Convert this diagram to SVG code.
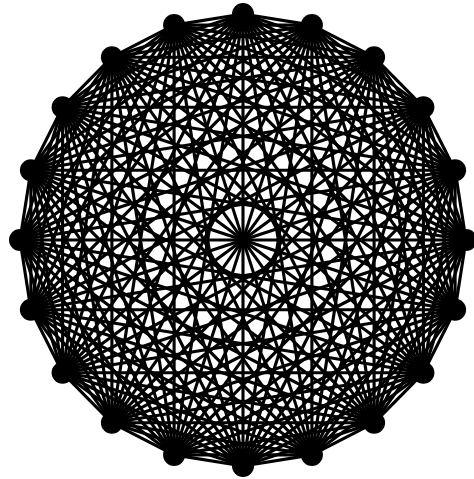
<svg xmlns="http://www.w3.org/2000/svg" width="474" height="479" viewBox="0 0 474 479">
<style>
.e{stroke:#000;stroke-width:3.1;fill:none}
.n{fill:#000}
</style>
<rect width="474" height="479" fill="#fff"/>
<g id="connectors" class="e">
<path d="M243 14L311.9 25.1"/><path d="M243 14L374.1 57.2"/><path d="M243 14L423.4 107.2"/><path d="M243 14L455.1 170.2"/><path d="M243 14L466 240"/><path d="M243 14L455.1 309.8"/><path d="M243 14L423.4 372.8"/><path d="M243 14L374.1 422.8"/><path d="M243 14L311.9 454.9"/><path d="M243 14L243 466"/><path d="M243 14L174.1 454.9"/><path d="M243 14L111.9 422.8"/><path d="M243 14L62.6 372.8"/><path d="M243 14L30.9 309.8"/><path d="M243 14L20 240"/><path d="M243 14L30.9 170.2"/><path d="M243 14L62.6 107.2"/><path d="M243 14L111.9 57.2"/><path d="M243 14L174.1 25.1"/>
<path d="M311.9 25.1L374.1 57.2"/><path d="M311.9 25.1L423.4 107.2"/><path d="M311.9 25.1L455.1 170.2"/><path d="M311.9 25.1L466 240"/><path d="M311.9 25.1L455.1 309.8"/><path d="M311.9 25.1L423.4 372.8"/><path d="M311.9 25.1L374.1 422.8"/><path d="M311.9 25.1L311.9 454.9"/><path d="M311.9 25.1L243 466"/><path d="M311.9 25.1L174.1 454.9"/><path d="M311.9 25.1L111.9 422.8"/><path d="M311.9 25.1L62.6 372.8"/><path d="M311.9 25.1L30.9 309.8"/><path d="M311.9 25.1L20 240"/><path d="M311.9 25.1L30.9 170.2"/><path d="M311.9 25.1L62.6 107.2"/><path d="M311.9 25.1L111.9 57.2"/><path d="M311.9 25.1L174.1 25.1"/>
<path d="M374.1 57.2L423.4 107.2"/><path d="M374.1 57.2L455.1 170.2"/><path d="M374.1 57.2L466 240"/><path d="M374.1 57.2L455.1 309.8"/><path d="M374.1 57.2L423.4 372.8"/><path d="M374.1 57.2L374.1 422.8"/><path d="M374.1 57.2L311.9 454.9"/><path d="M374.1 57.2L243 466"/><path d="M374.1 57.2L174.1 454.9"/><path d="M374.1 57.2L111.9 422.8"/><path d="M374.1 57.2L62.6 372.8"/><path d="M374.1 57.2L30.9 309.8"/><path d="M374.1 57.2L20 240"/><path d="M374.1 57.2L30.9 170.2"/><path d="M374.1 57.2L62.6 107.2"/><path d="M374.1 57.2L111.9 57.2"/><path d="M374.1 57.2L174.1 25.1"/>
<path d="M423.4 107.2L455.1 170.2"/><path d="M423.4 107.2L466 240"/><path d="M423.4 107.2L455.1 309.8"/><path d="M423.4 107.2L423.4 372.8"/><path d="M423.4 107.2L374.1 422.8"/><path d="M423.4 107.2L311.9 454.9"/><path d="M423.4 107.2L243 466"/><path d="M423.4 107.2L174.1 454.9"/><path d="M423.4 107.2L111.9 422.8"/><path d="M423.4 107.2L62.6 372.8"/><path d="M423.4 107.2L30.9 309.8"/><path d="M423.4 107.2L20 240"/><path d="M423.4 107.2L30.9 170.2"/><path d="M423.4 107.2L62.6 107.2"/><path d="M423.4 107.2L111.9 57.2"/><path d="M423.4 107.2L174.1 25.1"/>
<path d="M455.1 170.2L466 240"/><path d="M455.1 170.2L455.1 309.8"/><path d="M455.1 170.2L423.4 372.8"/><path d="M455.1 170.2L374.1 422.8"/><path d="M455.1 170.2L311.9 454.9"/><path d="M455.1 170.2L243 466"/><path d="M455.1 170.2L174.1 454.9"/><path d="M455.1 170.2L111.9 422.8"/><path d="M455.1 170.2L62.6 372.8"/><path d="M455.1 170.2L30.9 309.8"/><path d="M455.1 170.2L20 240"/><path d="M455.1 170.2L30.9 170.2"/><path d="M455.1 170.2L62.6 107.2"/><path d="M455.1 170.2L111.9 57.2"/><path d="M455.1 170.2L174.1 25.1"/>
<path d="M466 240L455.1 309.8"/><path d="M466 240L423.4 372.8"/><path d="M466 240L374.1 422.8"/><path d="M466 240L311.9 454.9"/><path d="M466 240L243 466"/><path d="M466 240L174.1 454.9"/><path d="M466 240L111.9 422.8"/><path d="M466 240L62.6 372.8"/><path d="M466 240L30.9 309.8"/><path d="M466 240L20 240"/><path d="M466 240L30.9 170.2"/><path d="M466 240L62.6 107.2"/><path d="M466 240L111.9 57.2"/><path d="M466 240L174.1 25.1"/>
<path d="M455.1 309.8L423.4 372.8"/><path d="M455.1 309.8L374.1 422.8"/><path d="M455.1 309.8L311.9 454.9"/><path d="M455.1 309.8L243 466"/><path d="M455.1 309.8L174.1 454.9"/><path d="M455.1 309.8L111.9 422.8"/><path d="M455.1 309.8L62.6 372.8"/><path d="M455.1 309.8L30.9 309.8"/><path d="M455.1 309.8L20 240"/><path d="M455.1 309.8L30.9 170.2"/><path d="M455.1 309.8L62.6 107.2"/><path d="M455.1 309.8L111.9 57.2"/><path d="M455.1 309.8L174.1 25.1"/>
<path d="M423.4 372.8L374.1 422.8"/><path d="M423.4 372.8L311.9 454.9"/><path d="M423.4 372.8L243 466"/><path d="M423.4 372.8L174.1 454.9"/><path d="M423.4 372.8L111.9 422.8"/><path d="M423.4 372.8L62.6 372.8"/><path d="M423.4 372.8L30.9 309.8"/><path d="M423.4 372.8L20 240"/><path d="M423.4 372.8L30.9 170.2"/><path d="M423.4 372.8L62.6 107.2"/><path d="M423.4 372.8L111.9 57.2"/><path d="M423.4 372.8L174.1 25.1"/>
<path d="M374.1 422.8L311.9 454.9"/><path d="M374.1 422.8L243 466"/><path d="M374.1 422.8L174.1 454.9"/><path d="M374.1 422.8L111.9 422.8"/><path d="M374.1 422.8L62.6 372.8"/><path d="M374.1 422.8L30.9 309.8"/><path d="M374.1 422.8L20 240"/><path d="M374.1 422.8L30.9 170.2"/><path d="M374.1 422.8L62.6 107.2"/><path d="M374.1 422.8L111.9 57.2"/><path d="M374.1 422.8L174.1 25.1"/>
<path d="M311.9 454.9L243 466"/><path d="M311.9 454.9L174.1 454.9"/><path d="M311.9 454.9L111.9 422.8"/><path d="M311.9 454.9L62.6 372.8"/><path d="M311.9 454.9L30.9 309.8"/><path d="M311.9 454.9L20 240"/><path d="M311.9 454.9L30.9 170.2"/><path d="M311.9 454.9L62.6 107.2"/><path d="M311.9 454.9L111.9 57.2"/><path d="M311.9 454.9L174.1 25.1"/>
<path d="M243 466L174.1 454.9"/><path d="M243 466L111.9 422.8"/><path d="M243 466L62.6 372.8"/><path d="M243 466L30.9 309.8"/><path d="M243 466L20 240"/><path d="M243 466L30.9 170.2"/><path d="M243 466L62.6 107.2"/><path d="M243 466L111.9 57.2"/><path d="M243 466L174.1 25.1"/>
<path d="M174.1 454.9L111.9 422.8"/><path d="M174.1 454.9L62.6 372.8"/><path d="M174.1 454.9L30.9 309.8"/><path d="M174.1 454.9L20 240"/><path d="M174.1 454.9L30.9 170.2"/><path d="M174.1 454.9L62.6 107.2"/><path d="M174.1 454.9L111.9 57.2"/><path d="M174.1 454.9L174.1 25.1"/>
<path d="M111.9 422.8L62.6 372.8"/><path d="M111.9 422.8L30.9 309.8"/><path d="M111.9 422.8L20 240"/><path d="M111.9 422.8L30.9 170.2"/><path d="M111.9 422.8L62.6 107.2"/><path d="M111.9 422.8L111.9 57.2"/><path d="M111.9 422.8L174.1 25.1"/>
<path d="M62.6 372.8L30.9 309.8"/><path d="M62.6 372.8L20 240"/><path d="M62.6 372.8L30.9 170.2"/><path d="M62.6 372.8L62.6 107.2"/><path d="M62.6 372.8L111.9 57.2"/><path d="M62.6 372.8L174.1 25.1"/>
<path d="M30.9 309.8L20 240"/><path d="M30.9 309.8L30.9 170.2"/><path d="M30.9 309.8L62.6 107.2"/><path d="M30.9 309.8L111.9 57.2"/><path d="M30.9 309.8L174.1 25.1"/>
<path d="M20 240L30.9 170.2"/><path d="M20 240L62.6 107.2"/><path d="M20 240L111.9 57.2"/><path d="M20 240L174.1 25.1"/>
<path d="M30.9 170.2L62.6 107.2"/><path d="M30.9 170.2L111.9 57.2"/><path d="M30.9 170.2L174.1 25.1"/>
<path d="M62.6 107.2L111.9 57.2"/><path d="M62.6 107.2L174.1 25.1"/>
<path d="M111.9 57.2L174.1 25.1"/>
</g>
<g id="node0" class="n"><circle cx="243" cy="14" r="11"/></g>
<g id="node1" class="n"><circle cx="311.9" cy="25.1" r="11"/></g>
<g id="node2" class="n"><circle cx="374.1" cy="57.2" r="11"/></g>
<g id="node3" class="n"><circle cx="423.4" cy="107.2" r="11"/></g>
<g id="node4" class="n"><circle cx="455.1" cy="170.2" r="11"/></g>
<g id="node5" class="n"><circle cx="466" cy="240" r="11"/></g>
<g id="node6" class="n"><circle cx="455.1" cy="309.8" r="11"/></g>
<g id="node7" class="n"><circle cx="423.4" cy="372.8" r="11"/></g>
<g id="node8" class="n"><circle cx="374.1" cy="422.8" r="11"/></g>
<g id="node9" class="n"><circle cx="311.9" cy="454.9" r="11"/></g>
<g id="node10" class="n"><circle cx="243" cy="466" r="11"/></g>
<g id="node11" class="n"><circle cx="174.1" cy="454.9" r="11"/></g>
<g id="node12" class="n"><circle cx="111.9" cy="422.8" r="11"/></g>
<g id="node13" class="n"><circle cx="62.6" cy="372.8" r="11"/></g>
<g id="node14" class="n"><circle cx="30.9" cy="309.8" r="11"/></g>
<g id="node15" class="n"><circle cx="20" cy="240" r="11"/></g>
<g id="node16" class="n"><circle cx="30.9" cy="170.2" r="11"/></g>
<g id="node17" class="n"><circle cx="62.6" cy="107.2" r="11"/></g>
<g id="node18" class="n"><circle cx="111.9" cy="57.2" r="11"/></g>
<g id="node19" class="n"><circle cx="174.1" cy="25.1" r="11"/></g>
</svg>
